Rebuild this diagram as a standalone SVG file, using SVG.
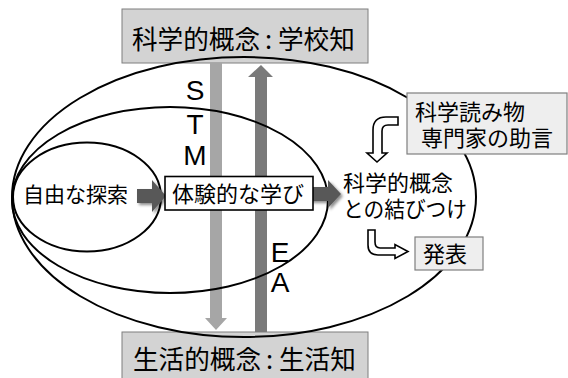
<svg xmlns="http://www.w3.org/2000/svg" width="568" height="378" viewBox="0 0 568 378">
  <defs>
    <style>
      .jp { font-family: "Noto Sans CJK JP", "Noto Sans", sans-serif; fill: #000; }
      .lat { font-family: "Liberation Sans", Arial, sans-serif; font-size: 28px; fill: #000; text-anchor: middle; }
      .ell { fill: none; stroke: #000; stroke-width: 2; }
      .grayBox { fill: #d3d3d3; stroke: #7f7f7f; stroke-width: 1; }
      .lightBox { fill: #eeeeee; stroke: #7f7f7f; stroke-width: 1.2; }
      .outlineArrow { fill: #fff; stroke: #000; stroke-width: 1.6; stroke-linejoin: miter; }
      .darkArrow { fill: #595959; }
    </style>
    <filter id="shadow" x="-20%" y="-20%" width="150%" height="150%">
      <feDropShadow dx="2" dy="2" stdDeviation="1.5" flood-color="#000" flood-opacity="0.45"/>
    </filter>
  </defs>

  <rect width="568" height="378" fill="#fff"/>

  <g id="node-gakkouchi">
    <rect class="grayBox" x="122" y="9" width="246" height="54"/>
    <text class="jp" font-size="25.6" y="49"><tspan x="132">科学的概念</tspan><tspan x="265">:</tspan><tspan x="278">学校知</tspan></text>
  </g>

  <g id="node-seikatsuchi">
    <rect class="grayBox" x="122" y="332" width="246" height="56"/>
    <text class="jp" font-size="25.6" y="369"><tspan x="133">生活的概念</tspan><tspan x="266">:</tspan><tspan x="279">生活知</tspan></text>
  </g>

  <g id="connectors-vertical">
    <path fill="#a6a6a6" d="M210,63 L222,63 L222,318 L227,318 L216,330 L205,318 L210,318 Z"/>
    <path fill="#7a7a7a" d="M255,332 L267,332 L267,77 L273,77 L261,65 L248,77 L255,77 Z"/>
  </g>

  <g id="ellipses">
    <ellipse class="ell" cx="244" cy="197" rx="232" ry="140"/>
    <ellipse class="ell" cx="170" cy="200" rx="158" ry="93"/>
    <ellipse class="ell" cx="87" cy="197" rx="74" ry="54.5"/>
  </g>

  <g id="labels-stem">
    <text class="lat" x="195" y="100">S</text>
    <text class="lat" x="195" y="134">T</text>
    <text class="lat" x="195" y="165">M</text>
    <text class="lat" x="280" y="262">E</text>
    <text class="lat" x="280" y="292">A</text>
  </g>

  <g id="node-jiyuu">
    <text class="jp" font-size="21" x="23" y="202">自由な探索</text>
  </g>

  <g id="connectors">
    <path class="darkArrow" filter="url(#shadow)" d="M137,189 L152,189 L152,180 L166,196 L152,212 L152,203 L137,203 Z"/>
    <path class="darkArrow" filter="url(#shadow)" d="M309,187 L328,187 L328,180 L341,194 L328,208 L328,201 L309,201 Z"/>
    <path class="outlineArrow" d="M398,117 L386,117 Q373,117 373,130 L373,153 L367,153 L377,162 L387,153 L382,153 L382,131 Q382,125 388,125 L398,125 Z"/>
    <path class="outlineArrow" d="M368,230 L368,245 Q368,255 378,255 L395,255 L395,258.5 L408,251.5 L395,244.5 L395,248 L380,248 Q375,248 375,242 L375,230 Z"/>
  </g>

  <g id="node-taiken">
    <rect x="165" y="176.5" width="148" height="33.5" fill="#fff" stroke="#000" stroke-width="1.6"/>
    <text class="jp" font-size="22" x="172" y="202">体験的な学び</text>
  </g>

  <g id="node-musubitsuke">
    <text class="jp" font-size="22" x="343" y="191">科学的概念</text>
    <text class="jp" font-size="22" x="343" y="217" textLength="124" lengthAdjust="spacingAndGlyphs">との結びつけ</text>
  </g>

  <g id="node-yomimono">
    <rect class="lightBox" x="407" y="93" width="160" height="61"/>
    <text class="jp" font-size="22" x="415" y="120">科学読み物</text>
    <text class="jp" font-size="22" x="421" y="146">専門家の助言</text>
  </g>

  <g id="node-happyou">
    <rect class="lightBox" x="415" y="237" width="68" height="33" stroke="#666"/>
    <text class="jp" font-size="22" x="423" y="262">発表</text>
  </g>
</svg>
